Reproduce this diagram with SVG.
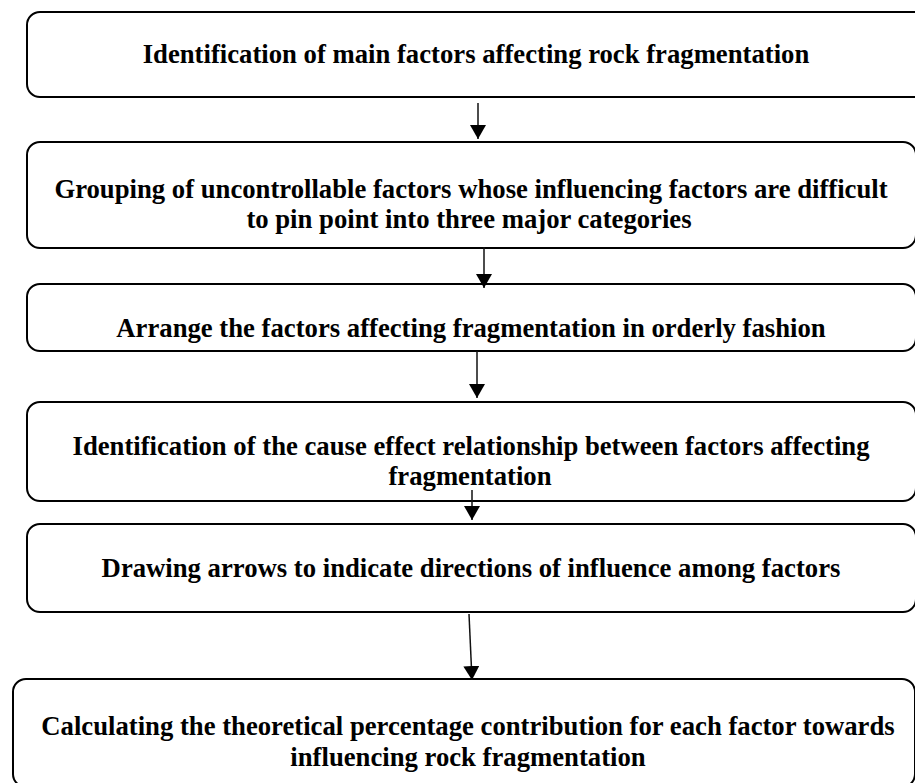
<svg xmlns="http://www.w3.org/2000/svg" width="915" height="783" viewBox="0 0 915 783">
<style>
.box{fill:#fff;stroke:#000;stroke-width:2}
.t{font-family:"Liberation Serif","Times New Roman",serif;font-weight:bold;font-size:26.7px;fill:#000;text-anchor:middle}
.c{stroke:#111;stroke-width:1.5;fill:none}
</style>
<defs>
<marker id="ah" viewBox="0 0 14 16" refX="14" refY="8" markerWidth="14" markerHeight="16" markerUnits="userSpaceOnUse" orient="auto">
<path d="M0,0 L14,8 L0,16 z" fill="#000"/>
</marker>
</defs>
<rect width="915" height="783" fill="#fff"/>
<g id="n1"><rect class="box" x="27" y="12" width="920" height="85" rx="13"/>
<text class="t" x="476" y="63">Identification of main factors affecting rock fragmentation</text></g>
<g id="n2"><rect class="box" x="27" y="142" width="889" height="106" rx="13"/>
<text class="t" x="471" y="198">Grouping of uncontrollable factors whose influencing factors are difficult</text>
<text class="t" x="469" y="228">to pin point into three major categories</text></g>
<g id="n3"><rect class="box" x="27" y="284" width="889" height="67" rx="13"/>
<text class="t" x="471" y="337">Arrange the factors affecting fragmentation in orderly fashion</text></g>
<g id="n4"><rect class="box" x="27" y="402" width="889" height="99" rx="13"/>
<text class="t" x="471" y="455">Identification of the cause effect relationship between factors affecting</text>
<text class="t" x="470" y="485">fragmentation</text></g>
<g id="n5"><rect class="box" x="27" y="524" width="889" height="88" rx="13"/>
<text class="t" x="471" y="577">Drawing arrows to indicate directions of influence among factors</text></g>
<g id="n6"><rect class="box" x="13" y="679" width="902" height="108" rx="13"/>
<text class="t" x="468" y="735">Calculating the theoretical percentage contribution for each factor towards</text>
<text class="t" x="468" y="766">influencing rock fragmentation</text></g>
<g id="connectors">
<line class="c" x1="478" y1="103" x2="478" y2="139" marker-end="url(#ah)"/>
<line class="c" x1="484" y1="247" x2="484" y2="288" marker-end="url(#ah)"/>
<line class="c" x1="477" y1="351" x2="477" y2="398" marker-end="url(#ah)"/>
<line class="c" x1="472" y1="490" x2="472" y2="520" marker-end="url(#ah)"/>
<line class="c" x1="469" y1="614" x2="472" y2="680" marker-end="url(#ah)"/>
</g>
</svg>
